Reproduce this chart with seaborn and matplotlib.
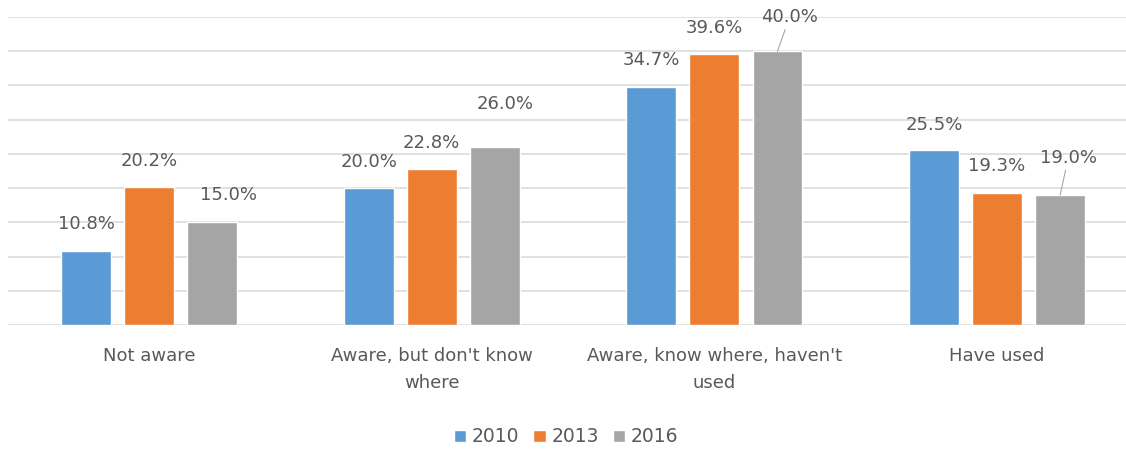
import matplotlib
matplotlib.use("Agg")
import matplotlib.pyplot as plt
import pandas as pd
import seaborn as sns

# data
categories = ["Not aware", "Aware, but don't know\nwhere",
              "Aware, know where, haven't\nused", "Have used"]
years = ["2010", "2013", "2016"]
values_2010 = [10.8, 20.0, 34.7, 25.5]
values_2013 = [20.2, 22.8, 39.6, 19.3]
values_2016 = [15.0, 26.0, 40.0, 19.0]

# label offsets in pixels (dx, dy) from bar top centre, per year, per category
label_offsets = [
    [(1, 27), (0, 26), (0, 27), (0, 25)],
    [(0, 26), (0, 26), (0, 26), (0, 27)],
    [(16, 27), (10, 43), (12, 34), (8, 37)],
]
leader = [[False] * 4, [False] * 4, [False, False, True, True]]

colors = ["#5B9BD5", "#ED7D31", "#A5A5A5"]
text_col = "#595959"
grid_col = "#D9D9D9"

df = pd.DataFrame({
    "Category": categories * 3,
    "Year": [y for y in years for _ in categories],
    "Value": values_2010 + values_2013 + values_2016,
})

sns.set_style("white")
plt.rcParams["font.family"] = ["DejaVu Sans"]

fig = plt.figure(figsize=(11.26, 4.5), dpi=100)
ax = fig.add_axes([7.7 / 1126, 125 / 450, 1130.7 / 1126, 308 / 450])

sns.barplot(data=df, x="Category", y="Value", hue="Year", hue_order=years,
            palette=colors, width=0.67, gap=0.21, saturation=1, ax=ax)

ax.set_xlim(-0.5, 3.5)
ax.set_ylim(0, 45)
ax.set_yticks(range(0, 46, 5))
ax.set_yticklabels([])
ax.yaxis.grid(True, color=grid_col, linewidth=1.1)
ax.set_axisbelow(True)
for s in ax.spines.values():
    s.set_visible(False)
ax.tick_params(axis="both", length=0)
ax.tick_params(axis="x", pad=16, labelsize=13, labelcolor=text_col)
for t in ax.get_xticklabels():
    t.set_linespacing(1.65)
    t.set_verticalalignment("top")
ax.set_xlabel("")
ax.set_ylabel("")

for i, cont in enumerate(ax.containers):
    for j, bar in enumerate(cont):
        h = bar.get_height()
        xc = bar.get_x() + bar.get_width() / 2
        dx, dy = label_offsets[i][j]
        arrow = None
        if leader[i][j]:
            arrow = dict(arrowstyle="-", color="#A6A6A6", lw=0.8,
                         shrinkA=0, shrinkB=0)
        ax.annotate(f"{h:.1f}%", xy=(xc, h), xytext=(dx, dy),
                    textcoords="offset pixels", ha="center", va="center",
                    fontsize=13, color=text_col, arrowprops=arrow,
                    annotation_clip=False)

handles, labels = ax.get_legend_handles_labels()
ax.get_legend().remove()
fig.legend(handles, labels, loc="center", bbox_to_anchor=(566 / 1126, 13 / 450),
           ncol=3, frameon=False, fontsize=13.5, labelcolor=text_col,
           handlelength=0.65, handleheight=0.65, handletextpad=0.3,
           columnspacing=0.75)

fig.savefig("out.png", dpi=100)
